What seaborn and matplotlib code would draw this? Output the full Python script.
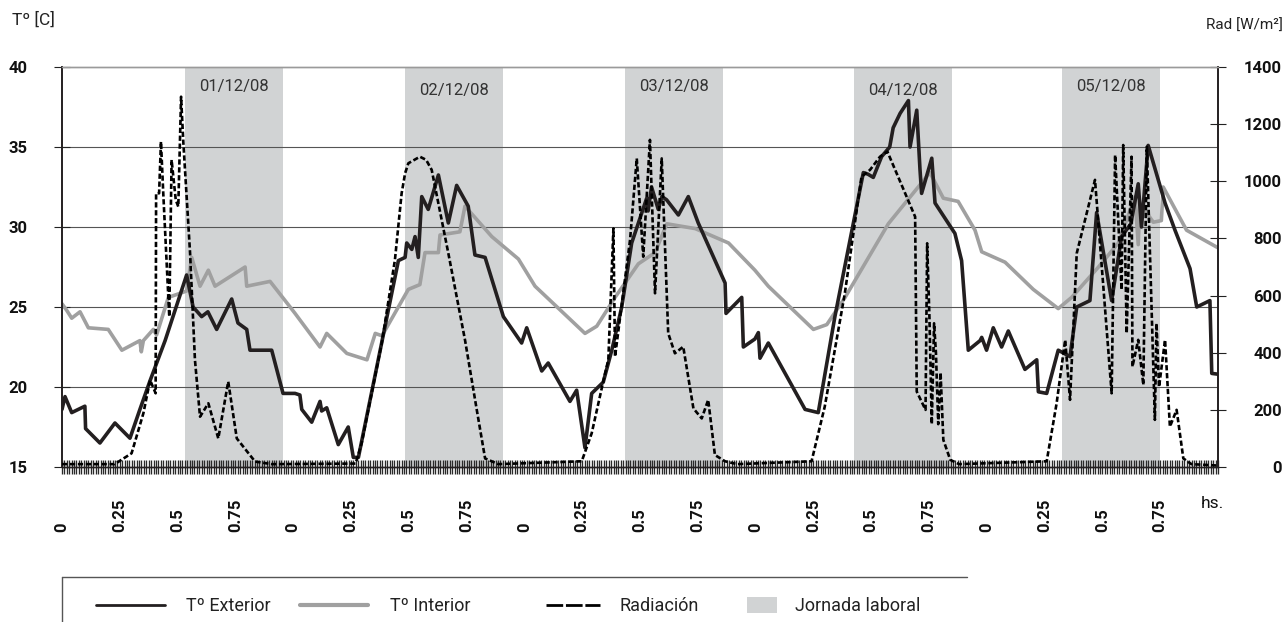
import numpy as np
import pandas as pd
import matplotlib
matplotlib.use('Agg')
import matplotlib.pyplot as plt
import matplotlib.transforms as mtransforms
import seaborn as sns
from matplotlib.lines import Line2D
from matplotlib.patches import Patch
from matplotlib.ticker import FixedLocator, FixedFormatter, MultipleLocator

# ---------------- data (time in days from 01/12/08 00:00) ----------------
ext_t = [0.000, 0.013, 0.042, 0.099, 0.102, 0.164, 0.229, 0.294, 0.337, 0.381, 0.446, 0.539, 0.567, 0.604, 0.631, 0.669, 0.734, 0.761, 0.799, 0.813, 0.907, 0.956, 1.008,
         1.029, 1.037, 1.080, 1.116, 1.123, 1.145, 1.195, 1.238, 1.260, 1.282, 1.455, 1.484, 1.491, 1.513, 1.527, 1.541, 1.556, 1.584, 1.628, 1.671, 1.707, 1.757, 1.786, 1.830, 1.909, 1.988,
         2.010, 2.075, 2.103, 2.197, 2.226, 2.262, 2.291, 2.341, 2.378, 2.421, 2.464, 2.529, 2.535, 2.550, 2.579, 2.595, 2.615, 2.666, 2.709, 2.752, 2.868, 2.872, 2.940, 2.947, 2.997,
         3.012, 3.019, 3.055, 3.214, 3.271, 3.343, 3.466, 3.486, 3.509, 3.545, 3.580, 3.595, 3.625, 3.661, 3.668, 3.697, 3.711, 3.718, 3.762, 3.776, 3.862, 3.891, 3.920, 3.971,
         3.978, 3.999, 4.028, 4.064, 4.093, 4.165, 4.216, 4.223, 4.259, 4.309, 4.360, 4.389, 4.446, 4.475, 4.540, 4.583, 4.623, 4.655, 4.669, 4.698, 4.771, 4.814, 4.879, 4.908, 4.965, 4.973, 5.000]
ext_v = [18.6, 19.4, 18.4, 18.8, 17.4, 16.5, 17.75, 16.8, 18.6, 20.4, 22.9, 27.0, 25.0, 24.4, 24.7, 23.6, 25.5, 24.0, 23.6, 22.3, 22.3, 19.6, 19.6,
         19.5, 18.6, 17.8, 19.1, 18.5, 18.7, 16.4, 17.5, 15.6, 15.6, 27.9, 28.1, 29.0, 28.6, 29.4, 28.1, 31.9, 31.1, 33.25, 30.25, 32.6, 31.3, 28.25, 28.1, 24.4, 22.75,
         23.7, 21.0, 21.5, 19.1, 19.8, 16.2, 19.6, 20.3, 22.3, 25.0, 29.0, 31.8, 31.0, 32.5, 31.1, 31.9, 31.7, 30.75, 31.9, 30.25, 26.5, 24.6, 25.6, 22.5, 23.0,
         23.4, 21.8, 22.75, 18.6, 18.4, 24.4, 33.4, 33.3, 33.1, 34.4, 35.0, 36.2, 37.1, 37.9, 35.0, 37.3, 33.6, 32.1, 34.3, 31.5, 29.6, 27.9, 22.3, 22.9,
         23.1, 22.3, 23.7, 22.5, 23.5, 21.1, 21.7, 19.7, 19.6, 22.3, 21.9, 25.0, 25.4, 30.9, 25.4, 29.4, 30.2, 32.7, 30.0, 35.1, 31.5, 29.8, 27.4, 25.0, 25.4, 20.85, 20.8]

int_t = [0.000, 0.020, 0.042, 0.078, 0.114, 0.200, 0.259, 0.337, 0.343, 0.352, 0.395, 0.409, 0.460, 0.539, 0.561, 0.597, 0.633, 0.662, 0.792, 0.799, 0.900, 0.965, 1.008,
         1.116, 1.145, 1.232, 1.319, 1.355, 1.384, 1.498, 1.548, 1.570, 1.628, 1.635, 1.721, 1.743, 1.859, 1.974,
         2.046, 2.262, 2.313, 2.392, 2.493, 2.565, 2.616, 2.739, 2.883, 2.997,
         3.055, 3.250, 3.308, 3.387, 3.574, 3.754, 3.812, 3.876, 3.949, 3.978,
         4.079, 4.201, 4.309, 4.367, 4.483, 4.569, 4.641, 4.655, 4.662, 4.720, 4.755, 4.763, 4.864, 5.000]
int_v = [25.2, 24.8, 24.3, 24.7, 23.7, 23.6, 22.3, 22.9, 22.2, 22.9, 23.6, 23.25, 25.6, 26.0, 28.1, 26.3, 27.3, 26.3, 27.5, 26.3, 26.6, 25.4, 24.6,
         22.5, 23.35, 22.1, 21.7, 23.35, 23.2, 26.1, 26.4, 28.4, 28.4, 29.5, 29.7, 31.3, 29.4, 28.0,
         26.3, 23.35, 23.8, 25.6, 27.7, 28.4, 30.2, 29.9, 29.0, 27.3,
         26.3, 23.6, 23.9, 25.6, 30.2, 33.4, 31.8, 31.6, 29.8, 28.45,
         27.8, 26.1, 24.9, 25.6, 27.5, 29.0, 31.9, 28.9, 31.5, 30.3, 30.4, 32.5, 29.8, 28.7]

rad_t = [0.000, 0.228, 0.301, 0.352, 0.381, 0.405, 0.407, 0.420, 0.428, 0.438, 0.464, 0.474, 0.492, 0.503, 0.515, 0.525, 0.554, 0.575, 0.597, 0.633, 0.676, 0.719, 0.756, 0.835, 0.907,
         1.270, 1.296, 1.383, 1.440, 1.469, 1.484, 1.498, 1.548, 1.575, 1.599, 1.671, 1.743, 1.794, 1.830, 1.887,
         2.248, 2.291, 2.349, 2.363, 2.385, 2.392, 2.457, 2.486, 2.514, 2.543, 2.565, 2.594, 2.622, 2.651, 2.687, 2.731, 2.767, 2.795, 2.824, 2.868, 2.920,
         3.242, 3.299, 3.386, 3.458, 3.495, 3.538, 3.570, 3.690, 3.697, 3.735, 3.742, 3.752, 3.762, 3.772, 3.780, 3.790, 3.800, 3.812, 3.842, 3.880,
         4.259, 4.302, 4.339, 4.360, 4.389, 4.468, 4.540, 4.555, 4.583, 4.590, 4.605, 4.626, 4.630, 4.655, 4.677, 4.692, 4.727, 4.734, 4.745, 4.771, 4.792, 4.821, 4.850, 4.885, 5.000]
rad_v = [10, 10, 48, 188, 304, 258, 958, 958, 1139, 958, 526, 1075, 935, 911, 1296, 1133, 748, 375, 176, 223, 100, 299, 100, 19, 10,
         12, 83, 433, 725, 958, 1028, 1063, 1086, 1075, 1040, 748, 445, 200, 30, 10,
         20, 118, 328, 375, 835, 386, 795, 1080, 736, 1145, 608, 1080, 468, 398, 421, 205, 170, 235, 42, 20, 10,
         20, 211, 608, 1016, 1040, 1086, 1104, 876, 264, 200, 783, 520, 150, 503, 400, 150, 330, 95, 25, 10,
         20, 223, 445, 235, 748, 1005, 258, 1092, 620, 1127, 468, 1086, 351, 445, 287, 1121, 165, 503, 280, 445, 141, 200, 30, 10, 5]

band_start = [0.532, 1.484, 2.435, 3.427, 4.327]
band_end = [0.957, 1.909, 2.860, 3.851, 4.750]
band_dates = ['01/12/08', '02/12/08', '03/12/08', '04/12/08', '05/12/08']
date_label_y = [0.950, 0.9425, 0.950, 0.9425, 0.950]   # axes fraction

x_tick_labels = ['0', '0.25', '0.5', '0.75'] * 5
left_ticks = [15, 20, 25, 30, 35, 40]
right_ticks = [0, 200, 400, 600, 800, 1000, 1200, 1400]

# ---------------- style ----------------
sns.set_theme(style='white')
plt.rcParams['font.family'] = ['Roboto', 'DejaVu Sans']

BLACK = '#231f20'
GRAY = '#a0a0a0'
BAND = '#d1d3d4'

W, H = 1287, 622
fig = plt.figure(figsize=(W / 100, H / 100), dpi=100)
ax = fig.add_axes([62 / W, 1 - 467 / H, (1218 - 62) / W, 400 / H])
ax2 = ax.twinx()

ax.set_xlim(0, 5)
ax.set_ylim(15, 40)
ax2.set_ylim(0, 1400)

# working-day bands
for s, e in zip(band_start, band_end):
    ax.axvspan(s, e, color=BAND, lw=0, zorder=0)
trans = mtransforms.blended_transform_factory(ax.transData, ax.transAxes)
for s, e, lab, yy in zip(band_start, band_end, band_dates, date_label_y):
    ax.text((s + e) / 2, yy, lab, transform=trans, ha='center', va='center',
            fontsize=12, color='#333333', zorder=1)

# lines
ext_df = pd.DataFrame({'t': ext_t, 'v': ext_v})
int_df = pd.DataFrame({'t': int_t, 'v': int_v})
rad_df = pd.DataFrame({'t': rad_t, 'v': rad_v})
sns.lineplot(data=int_df, x='t', y='v', ax=ax, color=GRAY, lw=2.6, sort=False,
             estimator=None, legend=False, zorder=2)
sns.lineplot(data=ext_df, x='t', y='v', ax=ax, color=BLACK, lw=2.6, sort=False,
             estimator=None, legend=False, zorder=3)
sns.lineplot(data=rad_df, x='t', y='v', ax=ax2, color='black', lw=1.9, sort=False,
             estimator=None, legend=False, zorder=4)
for ln in ax2.lines:
    ln.set_linestyle((0, (2.0, 1.0)))

ax.set_xlabel('')
ax.set_ylabel('')
ax2.set_xlabel('')
ax2.set_ylabel('')

# grid
ax.set_yticks(left_ticks)
ax.grid(axis='y', color='#555555', lw=0.8)
ax.grid(axis='x', visible=False)
ax2.grid(False)
ax.set_axisbelow(True)
yt = ax.yaxis.get_major_ticks()
yt[0].gridline.set_visible(False)
yt[-1].gridline.set_visible(False)

# x ticks
ax.xaxis.set_major_locator(FixedLocator(np.arange(len(x_tick_labels)) * 0.25))
ax.xaxis.set_major_formatter(FixedFormatter(x_tick_labels))
ax.xaxis.set_minor_locator(MultipleLocator(1 / 96))
ax.tick_params(axis='x', which='both', bottom=True, direction='inout', length=10,
               width=0.95, color='#2a2a2a')
ax.tick_params(axis='x', which='major', pad=41.8, labelrotation=90, labelsize=12,
               labelcolor='#111111')
for lab in ax.get_xticklabels():
    lab.set_va('bottom')
    lab.set_fontweight('bold')

# left y ticks
ax.tick_params(axis='y', left=True, direction='inout', length=11, width=0.8,
               color='#222222', pad=19, labelsize=12, labelcolor='#111111')
for lab in ax.get_yticklabels():
    lab.set_fontweight('bold')

# right y ticks
ax2.set_yticks(right_ticks)
ax2.tick_params(axis='y', right=True, direction='inout', length=11, width=0.8,
                color='#222222', pad=40.7, labelsize=12, labelcolor='#111111')
for lab in ax2.get_yticklabels():
    lab.set_ha('right')
    lab.set_fontweight('bold')

for a in (ax, ax2):
    a.spines['top'].set_color('#9a9a9a')
    a.spines['top'].set_linewidth(1.0)
    for side in ('left', 'right'):
        a.spines[side].set_color(BLACK)
        a.spines[side].set_linewidth(1.2)
    a.spines['bottom'].set_color(BLACK)
    a.spines['bottom'].set_linewidth(1.0)

# axis captions
fig.text(12 / W, 1 - 20 / H, 'Tº [C]', ha='left', va='center', fontsize=12.5, color='#222222')
fig.text(1283 / W, 1 - 26 / H, 'Rad [W/m²]', ha='right', va='center', fontsize=11, color='#222222')
fig.text(1212 / W, 1 - 503 / H, 'hs.', ha='center', va='center', fontsize=12.5, color='#111111')

# legend
leg_y = 1 - 606 / H
h_ext = Line2D([], [], color=BLACK, lw=2.0)
h_int = Line2D([], [], color=GRAY, lw=3.0)
h_rad = Line2D([], [], color='black', lw=2.0, linestyle=(0, (6, 1)))
h_band = Patch(facecolor=BAND, edgecolor='none')
lA = fig.legend([h_ext, h_int], ['Tº Exterior', 'Tº Interior'], ncol=2, loc='center left',
                bbox_to_anchor=(96 / W, leg_y), frameon=False, fontsize=13,
                handlelength=3.8, handletextpad=1.2, columnspacing=1.6,
                borderpad=0, borderaxespad=0)
lB = fig.legend([h_rad], ['Radiación'], loc='center left',
                bbox_to_anchor=(546 / W, leg_y), frameon=False, fontsize=13,
                handlelength=3.0, handletextpad=1.05, borderpad=0, borderaxespad=0)
lC = fig.legend([h_band], ['Jornada laboral'], loc='center left',
                bbox_to_anchor=(747 / W, leg_y), frameon=False, fontsize=13,
                handlelength=1.66, handleheight=1.0, handletextpad=1.0,
                borderpad=0, borderaxespad=0)
for lg in (lA, lB, lC):
    for t in lg.get_texts():
        t.set_color('#222222')

fig.add_artist(Line2D([62 / W, 967 / W], [1 - 577 / H, 1 - 577 / H],
                      color='#555555', lw=1.0, transform=fig.transFigure))
fig.add_artist(Line2D([62 / W, 62 / W], [1 - 577 / H, 0],
                      color='#555555', lw=1.0, transform=fig.transFigure))

fig.savefig('out.png', dpi=100)
